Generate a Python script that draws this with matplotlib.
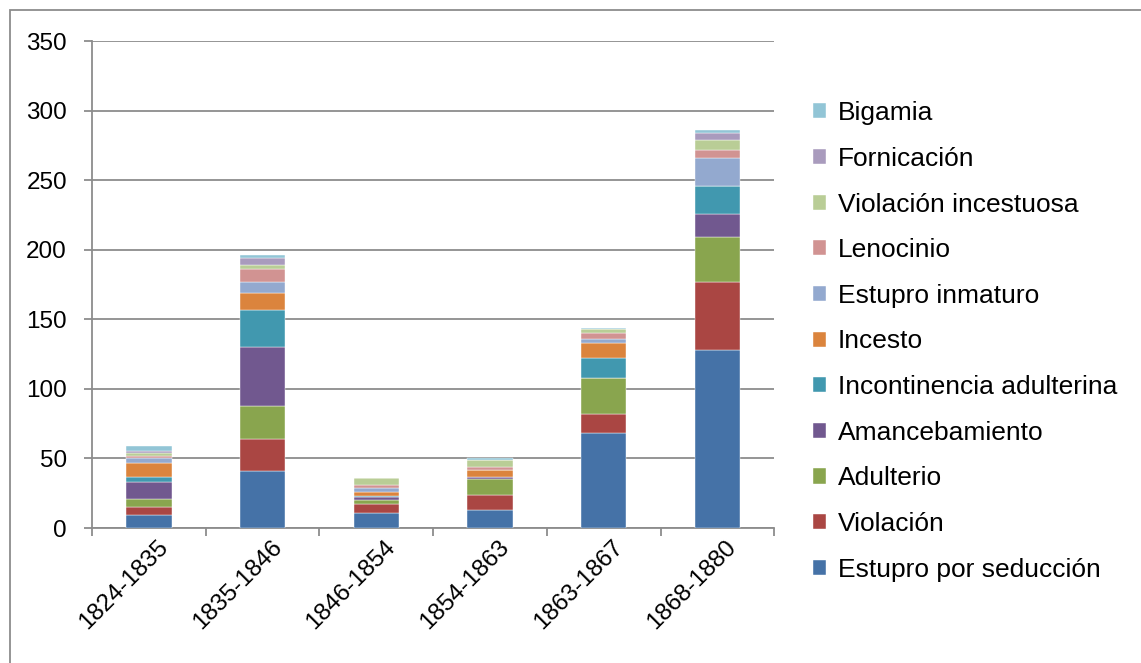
import numpy as np
import matplotlib.pyplot as plt
import matplotlib.transforms as mtransforms
from matplotlib.patches import Rectangle

plt.rcParams['font.family'] = ['Liberation Sans', 'DejaVu Sans']

# Periodos y delitos
periodos = ["1824-1835", "1835-1846", "1846-1854", "1854-1863", "1863-1867", "1868-1880"]

estupro_seduccion = [9, 41, 11, 13, 68, 128]
violacion = [6, 23, 6, 11, 14, 49]
adulterio = [6, 24, 3, 11, 26, 32]
amancebamiento = [12, 42, 2, 2, 0, 17]
incontinencia = [4, 27, 1, 0, 14, 20]
incesto = [10, 12, 3, 5, 11, 0]
estupro_inmaturo = [3, 8, 3, 0, 3, 20]
lenocinio = [2, 9, 2, 2, 4, 6]
violacion_incestuosa = [2, 3, 5, 5, 3, 7]
fornicacion = [1, 5, 0, 0, 0, 5]
bigamia = [4, 2, 0, 1, 1, 2]

series = [
    ("Estupro por seducción", estupro_seduccion, "#4572A7"),
    ("Violación", violacion, "#AA4643"),
    ("Adulterio", adulterio, "#89A54E"),
    ("Amancebamiento", amancebamiento, "#71588F"),
    ("Incontinencia adulterina", incontinencia, "#4198AF"),
    ("Incesto", incesto, "#DB843D"),
    ("Estupro inmaturo", estupro_inmaturo, "#93A9CF"),
    ("Lenocinio", lenocinio, "#D19392"),
    ("Violación incestuosa", violacion_incestuosa, "#B9CD96"),
    ("Fornicación", fornicacion, "#A99BBD"),
    ("Bigamia", bigamia, "#92C5D6"),
]

fig = plt.figure(figsize=(11.41, 6.63), dpi=100)
ax = fig.add_axes([0.0806, 0.2036, 0.598, 0.7344])

x = np.arange(len(periodos))
base = np.zeros(len(periodos))
for nombre, valores, color in series:
    ax.bar(x, valores, bottom=base, width=0.4, color=color, label=nombre,
           edgecolor="white", linewidth=0.3, zorder=3)
    base += np.array(valores)

ax.set_xlim(-0.5, len(periodos) - 0.5)
ax.set_ylim(0, 350)
ax.set_yticks(range(0, 351, 50))
ax.yaxis.grid(True, color="#8c8c8c", linewidth=1.3, zorder=0)

for lado in ["top", "right"]:
    ax.spines[lado].set_visible(False)
for lado in ["left", "bottom"]:
    ax.spines[lado].set_color("#8c8c8c")
    ax.spines[lado].set_linewidth(1.3)

ax.tick_params(axis="y", labelsize=17.5, length=6, color="#8c8c8c", width=1.3, pad=12)
ax.set_xticks(x)
ax.set_xticklabels(periodos, rotation=45, ha="right", rotation_mode="anchor", fontsize=17.5)
ax.tick_params(axis="x", length=0, pad=6)
ax.set_xticks(np.arange(-0.5, len(periodos), 1), minor=True)
ax.tick_params(axis="x", which="minor", length=6, color="#8c8c8c", width=1.3)

# Desplazamos un poco las etiquetas rotadas hacia la derecha
desplazamiento = mtransforms.ScaledTranslation(0.08, 0, fig.dpi_scale_trans)
for etiqueta in ax.get_xticklabels():
    etiqueta.set_transform(etiqueta.get_transform() + desplazamiento)

handles, labels = ax.get_legend_handles_labels()
fig.legend(handles[::-1], labels[::-1], loc="center left",
           bbox_to_anchor=(0.701, 0.485), frameon=False, fontsize=19,
           handlelength=0.5, handleheight=0.5, handletextpad=0.45,
           labelspacing=0.82, borderpad=0)

# Marco exterior del grafico
fig.patches.append(Rectangle((0.009, -0.01), 1.2, 0.995, transform=fig.transFigure,
                             fill=False, edgecolor="#8c8c8c", linewidth=1.3))

plt.savefig("out.png", dpi=100)
